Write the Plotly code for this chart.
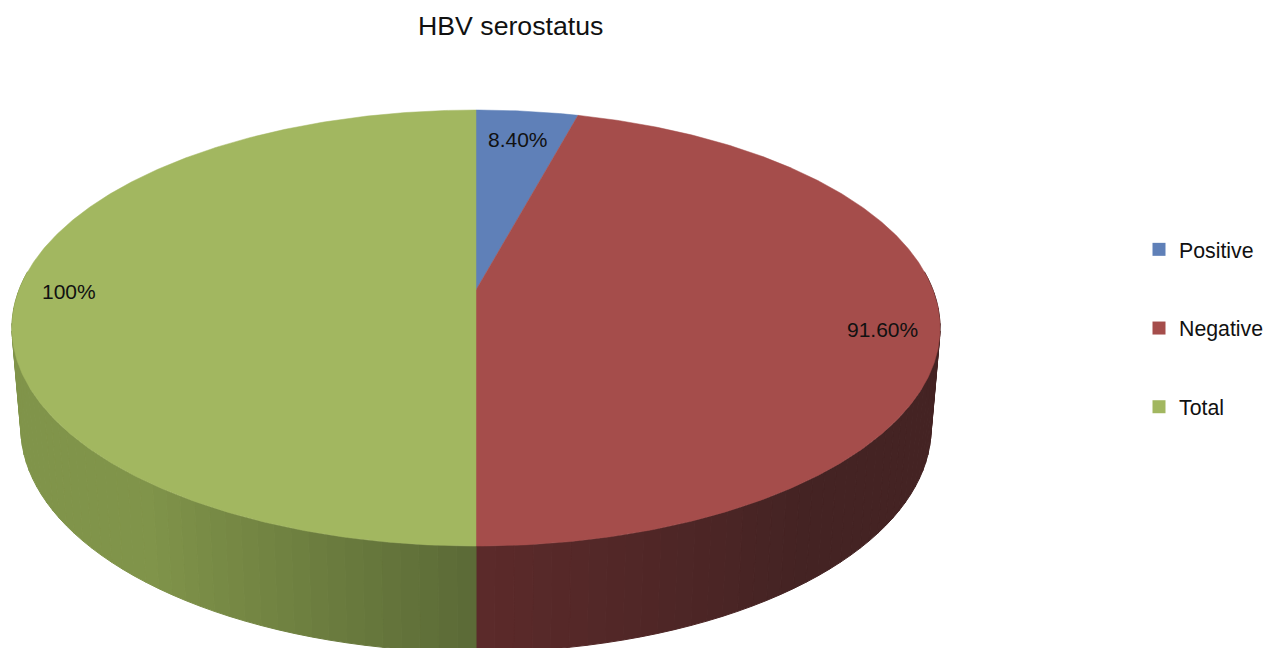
import math
import plotly.graph_objects as go

# ---- data ----
categories = ["Positive", "Negative", "Total"]
values = [8.4, 91.6, 100.0]
value_labels = ["8.40%", "91.60%", "100%"]
title_text = "HBV serostatus"

# ---- style and layout ----
W, H = 1265, 648
FONT = "Liberation Sans, Arial, sans-serif"
top_colors = ["#5f80b8", "#a54d4b", "#a2b760"]
label_centres = [(518, 139), (882.5, 329), (69, 291)]

# Perspective projection of the pie disc onto the page
APEX_X, APEX_Y = 476, 290
A, B, K = 211.4, 457.0, 0.1744
TOP_CY, TOP_RX, TOP_RY = 328.0, 464.0, 218.0
LOW_CY, LOW_RX, LOW_RY = 428.0, 455.0, 224.0


def rim(theta):
    """Point of the top face rim at clockwise angle theta from 12 o'clock."""
    u, v = math.sin(theta), math.cos(theta)
    d = 1 + K * v
    return APEX_X + B * u / d, APEX_Y - A * v / d


def low_rim(theta):
    x, y = rim(theta)
    return APEX_X + (x - APEX_X) / TOP_RX * LOW_RX, LOW_CY + (y - TOP_CY) / TOP_RY * LOW_RY


def mix(c1, c2, t):
    return "rgb(%d,%d,%d)" % tuple(round(a + (b - a) * t) for a, b in zip(c1, c2))


def side_colour(theta):
    nx = math.sin(theta)
    if nx >= 0:
        return mix((92, 42, 42), (68, 35, 35), min(1.0, nx * 1.6))
    return mix((91, 106, 54), (128, 148, 74), min(1.0, -nx * 1.6))


fig = go.Figure()

# Side wall, drawn as vertical bands from the pie's visible lower half
BANDS = 96
start, end = math.radians(85), math.radians(275)
for i in range(BANDS):
    t1 = start + (end - start) * i / BANDS
    t2 = start + (end - start) * (i + 1) / BANDS
    p1, p2, p3, p4 = rim(t1), rim(t2), low_rim(t2), low_rim(t1)
    col = side_colour((t1 + t2) / 2)
    fig.add_trace(go.Scatter(
        x=[p1[0], p2[0], p3[0], p4[0], p1[0]],
        y=[p1[1], p2[1], p3[1], p4[1], p1[1]],
        mode="lines", fill="toself", fillcolor=col,
        line=dict(color=col, width=1), hoverinfo="skip", showlegend=False))

# Top face wedges, from the values
total = sum(values)
cum = 0.0
for val, col in zip(values, top_colors):
    a0 = 2 * math.pi * cum / total
    cum += val
    a1 = 2 * math.pi * cum / total
    n = max(8, int(val * 4))
    pts = [rim(a0 + (a1 - a0) * j / n) for j in range(n + 1)]
    xs = [APEX_X] + [p[0] for p in pts] + [APEX_X]
    ys = [APEX_Y] + [p[1] for p in pts] + [APEX_Y]
    fig.add_trace(go.Scatter(
        x=xs, y=ys, mode="lines", fill="toself", fillcolor=col,
        line=dict(color=col, width=0.5), hoverinfo="skip", showlegend=False))

# Legend entries
for cat, col in zip(categories, top_colors):
    fig.add_trace(go.Scatter(
        x=[None], y=[None], mode="markers", name=cat, legendgroup=cat,
        marker=dict(symbol="square", size=13, color=col)))

annotations = [
    dict(x=cx, y=cy, xref="x", yref="y", text=txt, showarrow=False,
         xanchor="center", yanchor="middle",
         font=dict(family=FONT, size=21, color="#111111"))
    for txt, (cx, cy) in zip(value_labels, label_centres)
]
annotations.append(dict(x=510.5, y=26, xref="x", yref="y", text=title_text, showarrow=False,
                        xanchor="center", yanchor="middle",
                        font=dict(family=FONT, size=26.7, color="#111111")))

fig.update_layout(
    width=W, height=H, autosize=False,
    margin=dict(l=0, r=0, t=0, b=0, autoexpand=False),
    paper_bgcolor="white", plot_bgcolor="white",
    xaxis=dict(range=[0, W], visible=False, fixedrange=True),
    yaxis=dict(range=[H, 0], visible=False, fixedrange=True),
    annotations=annotations,
    legend=dict(x=1139 / W, y=1 - 229 / H, xanchor="left", yanchor="top",
                font=dict(family=FONT, size=21.3, color="#111111"),
                tracegroupgap=48, bgcolor="rgba(0,0,0,0)", itemclick=False,
                itemdoubleclick=False),
    showlegend=True,
)

fig.write_html("out.html", config=dict(displayModeBar=False),
               post_script="document.body.style.margin='0';document.body.style.overflow='hidden';")
